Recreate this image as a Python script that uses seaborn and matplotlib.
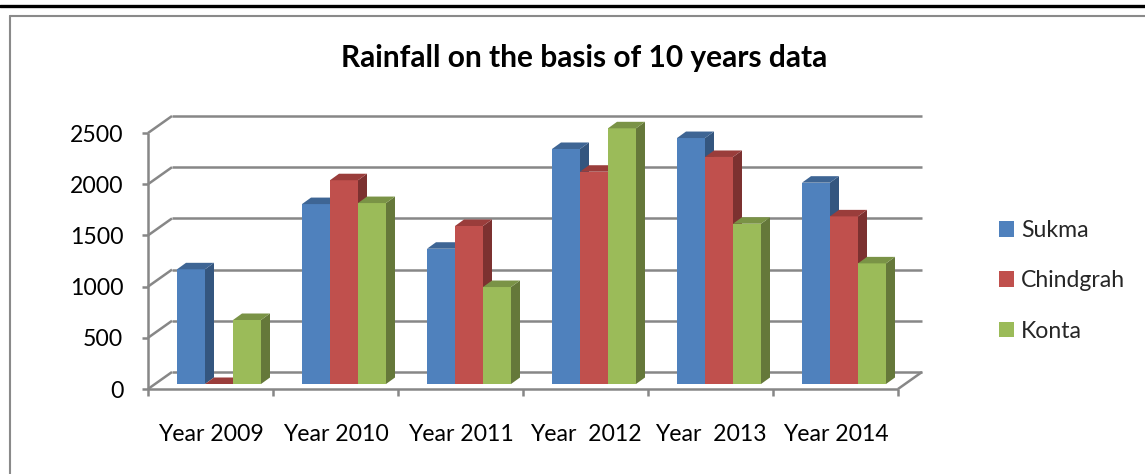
import numpy as np
import pandas as pd
import matplotlib
matplotlib.use("Agg")
import matplotlib.pyplot as plt
import seaborn as sns
from matplotlib.patches import Polygon
from matplotlib.lines import Line2D
from matplotlib.transforms import IdentityTransform, Affine2D

# ---- data ----
years = ["Year 2009", "Year 2010", "Year 2011", "Year  2012", "Year  2013", "Year 2014"]
stations = ["Sukma", "Chindgrah", "Konta"]
sukma = [1120, 1757, 1321, 2295, 2402, 1966]
chindgrah = [0, 1990, 1543, 2073, 2217, 1637]
konta = [625, 1767, 947, 2497, 1565, 1178]
yticks = [0, 500, 1000, 1500, 2000, 2500]
title = "Rainfall on the basis of 10 years data"

front_colors = ["#4F81BD", "#C0504D", "#9BBB59"]
top_colors = ["#3E6594", "#9A3D3B", "#7A9346"]
side_colors = ["#34567F", "#7C3130", "#65783A"]

df = pd.DataFrame({
    "Year": years * 3,
    "Station": [s for s in stations for _ in years],
    "Rainfall": sukma + chindgrah + konta,
})

sns.set_theme(style="white")
plt.rcParams["font.family"] = ["Lato", "DejaVu Sans"]

FS = 16.6
W, H = 1145, 474
fig = plt.figure(figsize=(W / 100, H / 100), dpi=100)
ax = fig.add_axes([156.5 / W, (H - 384) / H, 750 / W, 256 / H])

sns.barplot(data=df, x="Year", y="Rainfall", hue="Station", hue_order=stations,
            palette=front_colors, width=0.672, errorbar=None, linewidth=0,
            saturation=1, ax=ax)

ax.set_xlim(-0.5, 5.5)
ax.set_ylim(0, 2500)
ax.patch.set_visible(False)
for s in ax.spines.values():
    s.set_visible(False)
ax.set_yticks(yticks)
ax.set_xlabel("")
ax.set_ylabel("")
ax.grid(False)
ax.tick_params(axis="both", length=0, labelsize=FS, colors="black")
ax.tick_params(axis="y", pad=24)
ax.tick_params(axis="x", pad=28.5)

# legend
handles, labels = ax.get_legend_handles_labels()
if ax.legend_ is not None:
    ax.legend_.remove()
fig.legend(handles, labels, loc="upper left", bbox_to_anchor=(999 / W, 1 - 220 / H),
           frameon=False, fontsize=FS, handlelength=0.65, handleheight=0.65,
           handletextpad=0.3, labelspacing=1.27, borderpad=0, borderaxespad=0)

ident = IdentityTransform()
T = ax.transData
FRONT = np.array([-8.5, -5.0])
BACK = np.array([15.5, 12.0])
DEPTH = np.array([9.0, 6.5])
gcol = "#878787"
glw = 1.8


def pt(x, y, off):
    return T.transform((x, y)) + off


def line(p, q, **kw):
    ax.add_line(Line2D([p[0], q[0]], [p[1], q[1]], transform=ident, clip_on=False,
                       color=gcol, lw=glw, zorder=1, solid_capstyle="butt", **kw))


# back wall gridlines, left wall diagonals, y-axis ticks
for v in yticks:
    line(pt(-0.5, v, BACK), pt(5.5, v, BACK))
    line(pt(-0.5, v, FRONT), pt(-0.5, v, BACK))
    p = pt(-0.5, v, FRONT)
    line(p - np.array([6.5, 0]), p)
# front y axis
line(pt(-0.5, 0, FRONT), pt(-0.5, yticks[-1], FRONT))
# front x axis & ticks
line(pt(-0.5, 0, FRONT), pt(5.5, 0, FRONT))
for i in range(len(years) + 1):
    p = pt(i - 0.5, 0, FRONT)
    line(p, p - np.array([0, 7]))
# floor right edge
line(pt(5.5, 0, FRONT), pt(5.5, 0, BACK))

# 3D faces for bars
bars = [p for p in list(ax.patches) if hasattr(p, "get_width") and p.get_width() > 1e-9]
for p in bars:
    x0, w, h = p.get_x(), p.get_width(), p.get_height()
    c = x0 + w / 2
    k = int(round((c - round(c)) / w)) + 1
    k = min(max(k, 0), 2)
    p.set_zorder(3 + 2 * k)
    X0, Y0 = T.transform((x0, 0))
    X1, Y1 = T.transform((x0 + w, h))
    dx, dy = DEPTH
    side = Polygon([(X1, Y0), (X1 + dx, Y0 + dy), (X1 + dx, Y1 + dy), (X1, Y1)],
                   closed=True, transform=ident, clip_on=False, lw=0,
                   facecolor=side_colors[k], zorder=4 + 2 * k)
    top = Polygon([(X0, Y1), (X1, Y1), (X1 + dx, Y1 + dy), (X0 + dx, Y1 + dy)],
                  closed=True, transform=ident, clip_on=False, lw=0,
                  facecolor=top_colors[k], zorder=4 + 2 * k)
    ax.add_patch(side)
    ax.add_patch(top)

ax.set_xlim(-0.5, 5.5)
ax.set_ylim(0, 2500)

# shift tick labels onto the front plane
for lab in ax.get_yticklabels():
    lab.set_transform(lab.get_transform() + Affine2D().translate(0, FRONT[1]))
for lab in ax.get_xticklabels():
    lab.set_transform(lab.get_transform() + Affine2D().translate(FRONT[0], 0))

# title
fig.text(584.5 / W, 1 - 66.5 / H, title, ha="center", va="baseline",
         fontsize=21.5, fontweight="bold", color="black")

# page borders
fig.add_artist(Line2D([0, 1], [1 - 5.5 / H] * 2, transform=fig.transFigure,
                      color="black", lw=2.4))
fig.add_artist(Line2D([10.5 / W, 1], [1 - 15.5 / H] * 2, transform=fig.transFigure,
                      color="#8a8a8a", lw=1.5))
fig.add_artist(Line2D([10.5 / W, 10.5 / W], [1 - 15.5 / H, 0], transform=fig.transFigure,
                      color="#8a8a8a", lw=1.5))

fig.savefig("out.png", dpi=100)
